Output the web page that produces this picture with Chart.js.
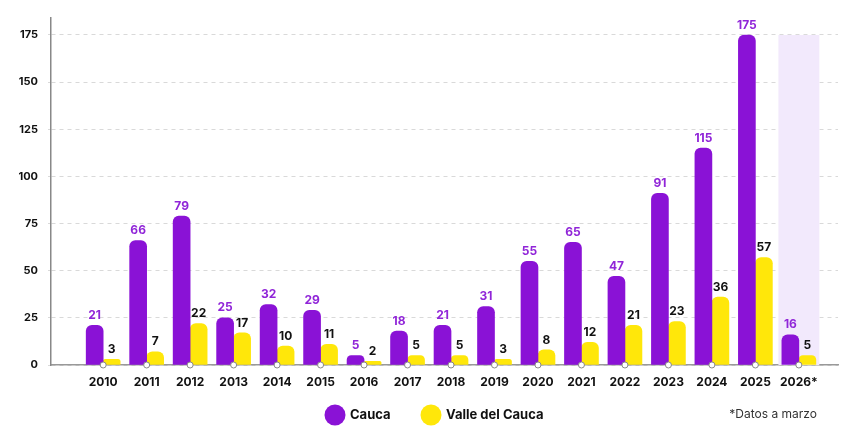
<!DOCTYPE html>
<html>
<head>
<meta charset="utf-8">
<title>Cauca vs Valle del Cauca</title>
<script src="https://cdn.jsdelivr.net/npm/chart.js@4.4.1/dist/chart.umd.min.js"></script>
<style>
  html, body { margin: 0; padding: 0; background: #fff; }
  #wrap { width: 864px; height: 432px; }
</style>
</head>
<body>
<div id="wrap"><canvas id="myChart"></canvas></div>
<script>
// data
var years = ['2010','2011','2012','2013','2014','2015','2016','2017','2018','2019','2020','2021','2022','2023','2024','2025','2026*'];
var cauca = [21,66,79,25,32,29,5,18,21,31,55,65,47,91,115,175,16];
var valle = [3,7,22,17,10,11,2,5,5,3,8,12,21,23,36,57,5];
var yTicks = [0,25,50,75,100,125,150,175];
var footnote = '*Datos a marzo';

var PURPLE = '#8a12d6';
var YELLOW = '#ffe70a';
var FONT = 'Inter, "Open Sans", sans-serif';

function pts(arr){ return arr.map(function(v,i){ return {x:i, y:v}; }); }

// shaded band behind the partial year, value labels, axis circles, legend
var extras = {
  id: 'extras',
  beforeDatasetsDraw: function(chart){
    var ctx = chart.ctx, xs = chart.scales.x, ys = chart.scales.y;
    var last = years.length - 1;
    var x0 = xs.getPixelForValue(last - 0.47), x1 = xs.getPixelForValue(last + 0.47);
    var y0 = ys.getPixelForValue(175), y1 = ys.getPixelForValue(0);
    ctx.save();
    ctx.fillStyle = '#f2e9fc';
    ctx.fillRect(x0, y0, x1 - x0, y1 - y0);
    ctx.restore();
  },
  afterDatasetsDraw: function(chart){
    var ctx = chart.ctx, xs = chart.scales.x, ys = chart.scales.y;
    ctx.save();
    ctx.font = 'bold 12px ' + FONT;
    ctx.textAlign = 'center';
    ctx.textBaseline = 'bottom';
    chart.data.datasets.forEach(function(ds, di){
      var meta = chart.getDatasetMeta(di);
      ctx.fillStyle = di === 0 ? '#9025d8' : '#111';
      meta.data.forEach(function(bar, i){
        ctx.fillText(String(ds.data[i].y), bar.x, bar.y - 4);
      });
    });
    var y0 = ys.getPixelForValue(0);
    years.forEach(function(_, i){
      ctx.beginPath();
      ctx.arc(xs.getPixelForValue(i), y0, 3, 0, Math.PI*2);
      ctx.fillStyle = '#fff';
      ctx.fill();
      ctx.lineWidth = 1;
      ctx.strokeStyle = '#888';
      ctx.stroke();
    });
    var items = [{c: PURPLE, t: 'Cauca', x: 335}, {c: YELLOW, t: 'Valle del Cauca', x: 431}];
    ctx.textAlign = 'left';
    ctx.textBaseline = 'middle';
    ctx.font = 'bold 13px ' + FONT;
    items.forEach(function(it){
      ctx.beginPath();
      ctx.arc(it.x, 415, 10.5, 0, Math.PI*2);
      ctx.fillStyle = it.c;
      ctx.fill();
      ctx.fillStyle = '#111';
      ctx.fillText(it.t, it.x + 15, 415);
    });
    ctx.font = '12px ' + FONT;
    ctx.fillStyle = '#333';
    ctx.textAlign = 'right';
    ctx.fillText(footnote, 817, 414);
    ctx.restore();
  }
};

var ctx = document.getElementById('myChart').getContext('2d');
var chart = new Chart(ctx, {
  type: 'bar',
  data: {
    datasets: [
      {
        label: 'Cauca',
        data: pts(cauca),
        backgroundColor: PURPLE,
        barThickness: 17,
        borderRadius: {topLeft: 6, topRight: 6},
        borderSkipped: 'bottom'
      },
      {
        label: 'Valle del Cauca',
        data: pts(valle),
        backgroundColor: YELLOW,
        barThickness: 17,
        borderRadius: {topLeft: 6, topRight: 6},
        borderSkipped: 'bottom'
      }
    ]
  },
  options: {
    responsive: true,
    maintainAspectRatio: false,
    animation: false,
    layout: { padding: { left: 0, right: 26, top: 18, bottom: 32 } },
    plugins: {
      legend: { display: false },
      tooltip: { enabled: false }
    },
    scales: {
      x: {
        type: 'linear',
        offset: false,
        min: -1.2,
        max: 16.9,
        grid: { display: false },
        border: { display: true, color: '#999', width: 1.5 },
        afterBuildTicks: function(scale){
          scale.ticks = years.map(function(_, i){ return {value: i}; });
        },
        afterFit: function(scale){ scale.height = 35; },
        ticks: {
          autoSkip: false,
          maxRotation: 0,
          padding: 2,
          color: '#111',
          font: { family: FONT, size: 12, weight: 'bold' },
          callback: function(v){ return years[v]; }
        }
      },
      y: {
        min: 0,
        max: 184,
        afterBuildTicks: function(scale){
          scale.ticks = yTicks.map(function(v){ return {value: v}; });
        },
        afterFit: function(scale){ scale.width = 51; },
        grid: {
          color: '#d9d9d9',
          tickLength: 3,
          drawTicks: true
        },
        border: { display: true, color: '#888', width: 1.5, dash: [4,4] },
        ticks: {
          padding: 10,
          color: '#111',
          font: { family: FONT, size: 11, weight: 'bold' }
        }
      }
    }
  },
  plugins: [extras]
});
</script>
</body>
</html>
